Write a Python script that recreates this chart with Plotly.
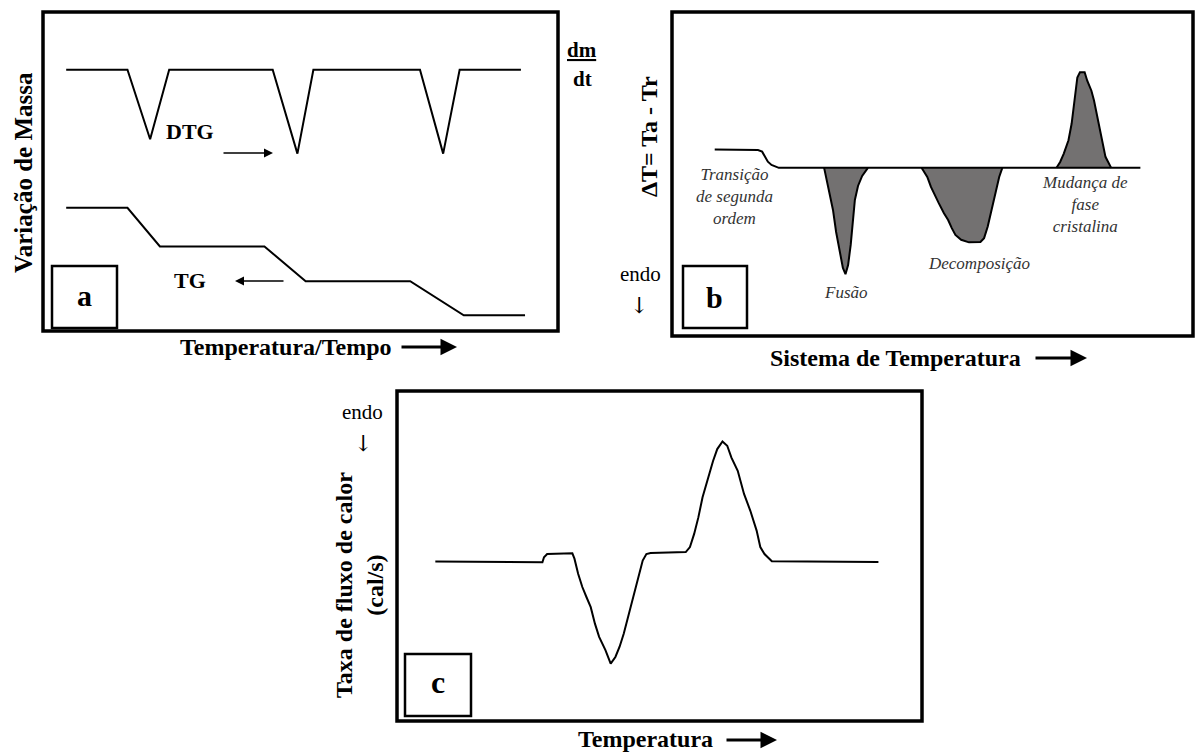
import plotly.graph_objects as go

W, H = 1195, 753

# ---------------- data (arbitrary units, 0-100 on every axis) ----------------
# Panel a: DTG and TG curves
dtg_x = [4.5, 16.4, 20.8, 24.5, 44.6, 49.4, 52.5, 73.2, 77.7, 80.9, 92.8]
dtg_y = [81.9, 81.9, 60.1, 81.9, 81.9, 55.6, 81.9, 81.9, 55.6, 81.9, 81.9]
tg_x = [4.5, 16.4, 22.7, 43.0, 51.0, 71.3, 81.7, 93.6]
tg_y = [38.6, 38.6, 26.5, 26.5, 15.6, 15.6, 4.9, 4.9]

# Panel b: DTA curve (baseline with step) and three filled events
dta_x = [8.2, 16.5, 17.3, 17.9, 18.4, 19.1, 20.1, 20.5, 89.9]
dta_y = [57.6, 57.4, 56.9, 55.3, 53.8, 52.8, 52.0, 51.9, 51.9]
fusao_x = [29.2, 29.7, 30.3, 30.9, 31.5, 32.3, 32.8, 33.3, 33.8, 34.3, 34.7, 35.1, 35.7, 36.5, 37.6]
fusao_y = [51.9, 48.1, 43.5, 38.9, 32.1, 25.9, 21.0, 19.1, 21.9, 28.1, 35.2, 42.0, 46.3, 49.4, 51.9]
decomp_x = [47.9, 49.0, 49.7, 50.4, 51.2, 52.2, 53.0, 53.7, 54.4, 55.5, 57.0, 59.2, 59.9, 60.6,
            61.4, 62.1, 62.8, 63.4]
decomp_y = [51.9, 49.1, 46.0, 43.5, 41.0, 37.9, 35.8, 33.3, 31.2, 29.7, 28.9, 29.0, 30.2, 33.8,
            39.4, 44.5, 49.1, 51.9]
mudanca_x = [73.8, 74.5, 75.2, 76.1, 76.7, 77.3, 77.8, 78.3, 79.2, 79.7, 80.5, 81.0, 81.8, 82.5,
             83.2, 84.3]
mudanca_y = [51.9, 53.7, 56.3, 60.4, 65.5, 72.7, 79.8, 81.4, 81.4, 78.8, 75.7, 72.7, 66.5, 60.4,
             55.3, 51.9]

# Panel c: DSC curve
dsc_x = [7.3, 27.7, 28.0, 28.6, 33.4, 33.8, 34.5, 35.3, 36.1, 36.9, 37.7, 38.5, 39.7, 40.7, 41.6,
         42.4, 43.2, 44.0, 44.8, 46.0, 46.8, 47.5, 48.3, 55.0, 55.8, 56.6, 57.4, 58.2, 59.4, 60.2,
         61.0, 62.0, 62.9, 63.7, 64.9, 66.1, 67.3, 68.5, 69.2, 70.0, 71.4, 91.7]
dsc_y = [48.3, 48.1, 49.6, 50.6, 50.8, 49.2, 44.6, 40.6, 37.5, 34.5, 29.5, 25.5, 21.5, 17.4, 19.4,
         22.5, 26.5, 31.5, 36.5, 43.6, 48.6, 50.6, 50.9, 51.2, 52.7, 56.7, 61.7, 67.8, 74.8, 78.8,
         82.4, 84.7, 83.4, 79.8, 75.8, 68.8, 63.7, 57.7, 52.7, 50.6, 48.4, 48.2]

# event labels
b_labels = ["<i>Transição<br>de segunda<br>ordem</i>", "<i>Fusão</i>", "<i>Decomposição</i>",
            "<i>Mudança de<br>fase<br>cristalina</i>"]

# ---------------- helpers (pixel -> paper) ----------------
def px(x):
    return x / W


def py(y):
    return 1 - y / H


FONT = "Liberation Serif"
GREY = "#737171"

fig = go.Figure()

# panel a
fig.add_trace(go.Scatter(x=dtg_x, y=dtg_y, mode="lines", line=dict(color="black", width=2),
                         xaxis="x", yaxis="y", hoverinfo="skip"))
fig.add_trace(go.Scatter(x=tg_x, y=tg_y, mode="lines", line=dict(color="black", width=2),
                         xaxis="x", yaxis="y", hoverinfo="skip"))
# panel b
for ex, ey in [(fusao_x, fusao_y), (decomp_x, decomp_y), (mudanca_x, mudanca_y)]:
    fig.add_trace(go.Scatter(x=ex, y=ey, mode="lines", fill="toself", fillcolor=GREY,
                             line=dict(color="black", width=2), xaxis="x2", yaxis="y2",
                             hoverinfo="skip"))
fig.add_trace(go.Scatter(x=dta_x, y=dta_y, mode="lines", line=dict(color="black", width=2),
                         xaxis="x2", yaxis="y2", hoverinfo="skip"))
# panel c
fig.add_trace(go.Scatter(x=dsc_x, y=dsc_y, mode="lines", line=dict(color="black", width=2),
                         xaxis="x3", yaxis="y3", hoverinfo="skip"))

ax_common = dict(range=[0, 100], showgrid=False, zeroline=False, showticklabels=False,
                 ticks="", showline=False, fixedrange=True)

fig.update_layout(
    width=W, height=H, margin=dict(l=0, r=0, t=0, b=0),
    paper_bgcolor="white", plot_bgcolor="white", showlegend=False,
    xaxis=dict(domain=[px(43), px(558)], anchor="y", **ax_common),
    yaxis=dict(domain=[py(331), py(12)], anchor="x", **ax_common),
    xaxis2=dict(domain=[px(672), px(1193)], anchor="y2", **ax_common),
    yaxis2=dict(domain=[py(336), py(12)], anchor="x2", **ax_common),
    xaxis3=dict(domain=[px(397), px(922)], anchor="y3", **ax_common),
    yaxis3=dict(domain=[py(721), py(391)], anchor="x3", **ax_common),
)

shapes = []
for xr, yr in [("x domain", "y domain"), ("x2 domain", "y2 domain"), ("x3 domain", "y3 domain")]:
    shapes.append(dict(type="rect", xref=xr, yref=yr, x0=0, x1=1, y0=0, y1=1,
                       line=dict(color="black", width=3.5)))
for (l, t, r, b) in [(52, 266, 117, 328), (683, 266, 747, 328), (405, 654, 471, 716)]:
    shapes.append(dict(type="rect", xref="paper", yref="paper", x0=px(l), x1=px(r),
                       y0=py(b), y1=py(t), line=dict(color="black", width=2.5)))
fig.update_layout(shapes=shapes)

ann = []


def text(x, y, s, size, color="black", angle=0, family=FONT):
    ann.append(dict(x=px(x), y=py(y), xref="paper", yref="paper", text=s, showarrow=False,
                    xanchor="center", yanchor="middle", textangle=angle,
                    font=dict(family=family, size=size, color=color)))


def arrow(x_tail, x_head, y, width, size):
    ann.append(dict(x=px(x_head), y=py(y), xref="paper", yref="paper", text="",
                    showarrow=True, ax=x_tail - x_head, ay=0, axref="pixel", ayref="pixel",
                    arrowhead=2, arrowwidth=width, arrowsize=size, arrowcolor="black"))


# panel a texts
text(23, 173, "<b>Variação de Massa</b>", 25, angle=-90)
text(582, 50, "<b><u>dm</u></b>", 21)
text(582, 79, "<b>dt</b>", 21)
text(190, 131, "<b>DTG</b>", 22)
text(190, 280, "<b>TG</b>", 22)
arrow(222, 273, 153, 1.5, 1.2)
arrow(285, 235, 281, 1.5, 1.2)
text(84, 295, "<b>a</b>", 30)
text(286, 347, "<b>Temperatura/Tempo</b>", 24)
arrow(400, 457, 347, 3, 1.1)

# panel b texts
text(649, 137, "<b>ΔT= Ta - Tr</b>", 24, angle=-90)
text(640, 274, "endo", 21)
text(639, 305, "↓", 22, family="DejaVu Serif")
text(714, 297, "<b>b</b>", 30)
text(734, 196, b_labels[0], 17, color="#333333")
text(846, 292, b_labels[1], 17, color="#333333")
text(979, 263, b_labels[2], 17, color="#333333")
text(1085, 204, b_labels[3], 17, color="#333333")
text(895, 358, "<b>Sistema de Temperatura</b>", 24)
arrow(1034, 1087, 358, 3, 1.1)

# panel c texts
text(359, 585, "<b>Taxa de fluxo de calor<br>(cal/s)</b>", 24, angle=-90)
text(362, 412, "endo", 21)
text(363, 443, "↓", 22, family="DejaVu Serif")
text(438, 682, "<b>c</b>", 32)
text(645, 739, "<b>Temperatura</b>", 24)
arrow(725, 777, 740, 3, 1.1)

fig.update_layout(annotations=ann)

fig.write_html("out.html", config={"displayModeBar": False},
               post_script="document.body.style.margin='0';document.body.style.overflow='hidden';")
